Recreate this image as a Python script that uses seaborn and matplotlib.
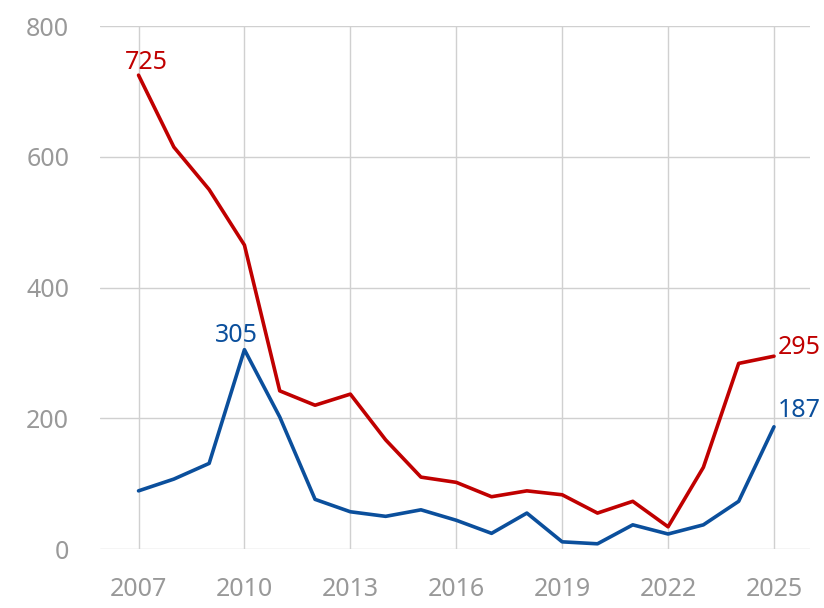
import pandas as pd
import matplotlib.pyplot as plt
import seaborn as sns

# ========== Data ==========
years = list(range(2007, 2026))
red_values = [725, 615, 550, 465, 242, 220, 237, 167, 110, 102,
              80, 89, 83, 55, 73, 34, 125, 284, 295]
blue_values = [89, 107, 131, 305, 202, 76, 57, 50, 60, 44,
               24, 55, 11, 8, 37, 23, 37, 73, 187]
x_ticks = [2007, 2010, 2013, 2016, 2019, 2022, 2025]
y_ticks = [0, 200, 400, 600, 800]

RED = "#C00000"
BLUE = "#0B4F9C"
GREY = "#999999"

df = pd.DataFrame({
    "year": years * 2,
    "value": red_values + blue_values,
    "series": ["red"] * len(years) + ["blue"] * len(years),
})

# ========== Setup ==========
sns.set_theme(style="whitegrid")
plt.rcParams["font.family"] = ["Noto Sans", "DejaVu Sans"]

fig = plt.figure(figsize=(8.24, 6.08), dpi=100)
ax = fig.add_axes([0.121, 0.097, 0.862, 0.86])

sns.lineplot(data=df, x="year", y="value", hue="series",
             palette={"red": RED, "blue": BLUE}, linewidth=2.6,
             legend=False, ax=ax)

ax.set_xlim(2005.9, 2026.02)
ax.set_ylim(0, 800)
ax.set_xticks(x_ticks)
ax.set_yticks(y_ticks)
ax.set_xlabel("")
ax.set_ylabel("")
ax.grid(True, color="#D0D0D0", linewidth=1)
for s in ax.spines.values():
    s.set_visible(False)
ax.tick_params(axis="both", colors=GREY, labelsize=18, length=0)
ax.tick_params(axis="y", pad=22)
ax.tick_params(axis="x", pad=20)

# ========== Labels ==========
ax.annotate(str(red_values[0]), (years[0], red_values[0]), xytext=(6, 0),
            textcoords="offset points", ha="center", va="bottom",
            color=RED, fontsize=18)
peak = blue_values.index(max(blue_values))
ax.annotate(str(blue_values[peak]), (years[peak], blue_values[peak]), xytext=(-6, 1),
            textcoords="offset points", ha="center", va="bottom",
            color=BLUE, fontsize=18)
ax.annotate(str(red_values[-1]), (years[-1], red_values[-1]), xytext=(3, 6),
            textcoords="offset points", ha="left", va="center",
            color=RED, fontsize=18)
ax.annotate(str(blue_values[-1]), (years[-1], blue_values[-1]), xytext=(3, 12),
            textcoords="offset points", ha="left", va="center",
            color=BLUE, fontsize=18)

plt.savefig("out.png", dpi=100)
plt.close()
